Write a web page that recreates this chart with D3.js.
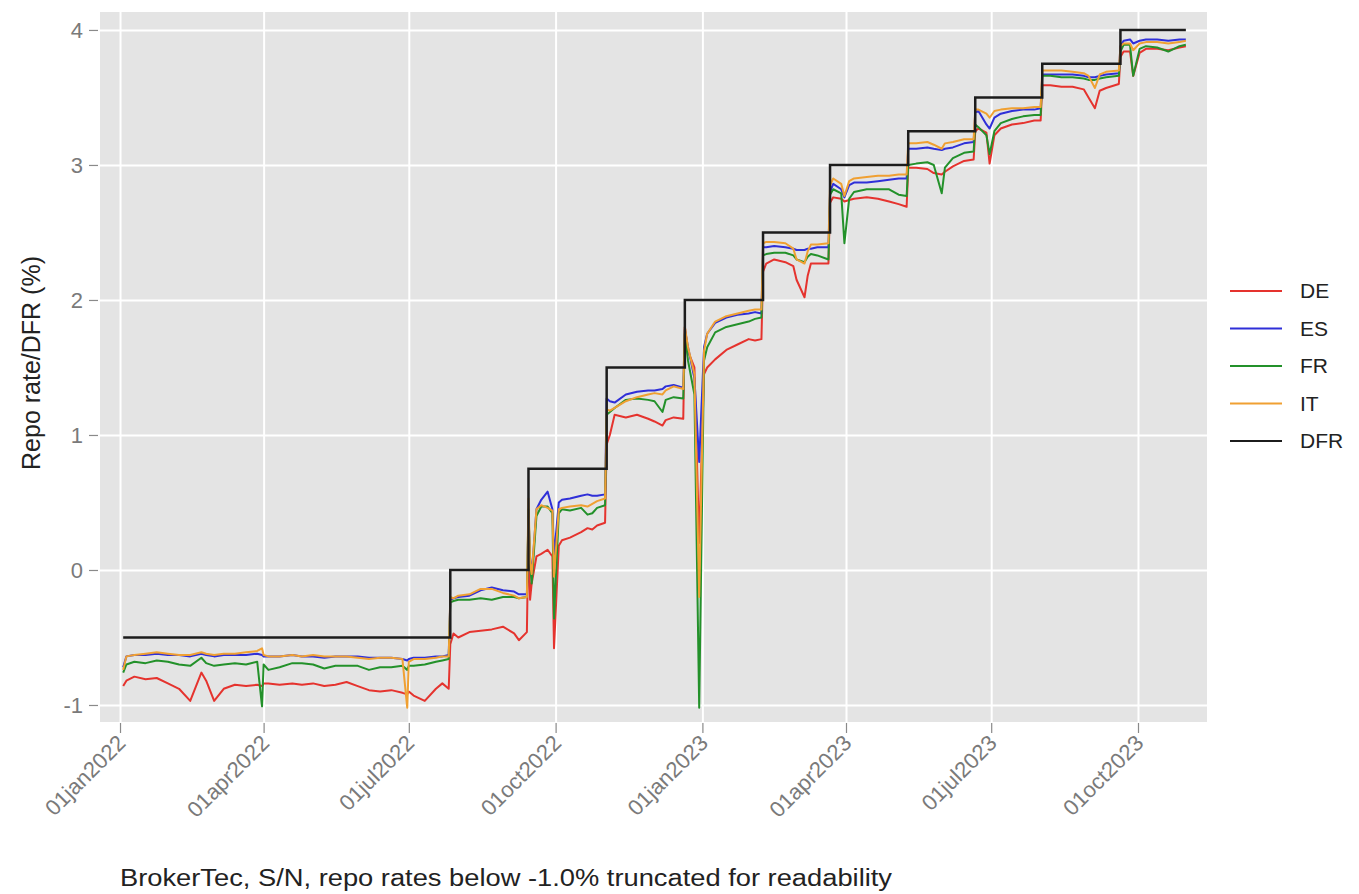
<!DOCTYPE html>
<html>
<head>
<meta charset="utf-8">
<script src="https://cdn.jsdelivr.net/npm/d3@7"></script>
<style>
  body { margin: 0; background: #fff; }
  svg text { font-family: "Liberation Sans", Arial, sans-serif; }
</style>
</head>
<body>
<div id="chart"></div>
<script>
// observation dates (one row per DFR regime)
const dates = [
  "2022-01-03","2022-01-05","2022-01-10","2022-01-17","2022-01-24","2022-01-31","2022-02-07","2022-02-14","2022-02-21","2022-02-24",
  "2022-03-01","2022-03-07","2022-03-14","2022-03-21","2022-03-28","2022-03-31","2022-04-01","2022-04-04","2022-04-11","2022-04-19",
  "2022-04-25","2022-05-02","2022-05-09","2022-05-16","2022-05-23","2022-05-30","2022-06-06","2022-06-13","2022-06-20","2022-06-27",
  "2022-06-30","2022-07-01","2022-07-04","2022-07-11","2022-07-18","2022-07-22","2022-07-26",
  "2022-07-27","2022-07-29","2022-08-01","2022-08-08","2022-08-15","2022-08-22","2022-08-29","2022-09-05","2022-09-08","2022-09-13",
  "2022-09-14","2022-09-15","2022-09-16","2022-09-19","2022-09-22","2022-09-26","2022-09-29","2022-09-30","2022-10-03","2022-10-05",
  "2022-10-10","2022-10-17","2022-10-21","2022-10-24","2022-10-27","2022-11-01",
  "2022-11-02","2022-11-04","2022-11-07","2022-11-14","2022-11-21","2022-11-28","2022-12-02","2022-12-07","2022-12-09","2022-12-14","2022-12-20",
  "2022-12-21","2022-12-23","2022-12-27","2022-12-30","2023-01-02","2023-01-04","2023-01-09","2023-01-16","2023-01-23","2023-01-30","2023-02-03","2023-02-07",
  "2023-02-08","2023-02-10","2023-02-15","2023-02-22","2023-02-27","2023-03-01","2023-03-06","2023-03-08","2023-03-10","2023-03-14","2023-03-21",
  "2023-03-22","2023-03-24","2023-03-29","2023-03-31","2023-04-03","2023-04-06","2023-04-14","2023-04-21","2023-04-28","2023-05-04","2023-05-09",
  "2023-05-10","2023-05-15","2023-05-22","2023-05-26","2023-05-31","2023-06-02","2023-06-07","2023-06-14","2023-06-20",
  "2023-06-21","2023-06-23","2023-06-28","2023-06-30","2023-07-03","2023-07-07","2023-07-14","2023-07-21","2023-07-28","2023-08-01",
  "2023-08-02","2023-08-07","2023-08-14","2023-08-21","2023-08-28","2023-08-31","2023-09-04","2023-09-07","2023-09-11","2023-09-19",
  "2023-09-20","2023-09-22","2023-09-26","2023-09-28","2023-10-02","2023-10-06","2023-10-13","2023-10-20","2023-10-27","2023-10-31"
];

const deRate = [
  -0.86,-0.82,-0.79,-0.81,-0.80,-0.84,-0.88,-0.97,-0.76,-0.82,
  -0.97,-0.88,-0.85,-0.86,-0.85,-0.86,-0.84,-0.84,-0.85,-0.84,
  -0.85,-0.84,-0.86,-0.85,-0.83,-0.86,-0.89,-0.90,-0.89,-0.91,
  -0.92,-0.90,-0.93,-0.97,-0.88,-0.84,-0.88,
  -0.55,-0.47,-0.50,-0.46,-0.45,-0.44,-0.42,-0.47,-0.52,-0.46,
  0.30,-0.22,-0.10,0.10,0.12,0.15,0.10,-0.58,0.18,0.22,
  0.24,0.28,0.31,0.30,0.33,0.35,
  0.93,1.00,1.15,1.13,1.15,1.12,1.10,1.07,1.11,1.13,1.12,
  1.80,1.62,1.50,0.20,1.45,1.50,1.56,1.63,1.67,1.71,1.70,1.71,
  2.21,2.27,2.30,2.28,2.25,2.15,2.02,2.18,2.27,2.27,2.27,
  2.72,2.76,2.75,2.73,2.74,2.75,2.76,2.75,2.73,2.71,2.69,
  2.98,2.98,2.97,2.94,2.93,2.95,2.99,3.03,3.04,
  3.25,3.27,3.24,3.01,3.22,3.27,3.30,3.31,3.33,3.33,
  3.59,3.59,3.58,3.58,3.56,3.50,3.42,3.55,3.57,3.60,
  3.80,3.84,3.84,3.66,3.83,3.86,3.86,3.85,3.87,3.88
];

const esRate = [
  -0.72,-0.64,-0.63,-0.63,-0.62,-0.63,-0.63,-0.64,-0.62,-0.63,
  -0.64,-0.63,-0.63,-0.63,-0.62,-0.63,-0.64,-0.64,-0.64,-0.63,
  -0.64,-0.64,-0.65,-0.64,-0.64,-0.64,-0.65,-0.65,-0.65,-0.66,
  -0.67,-0.66,-0.65,-0.65,-0.64,-0.64,-0.63,
  -0.22,-0.21,-0.20,-0.19,-0.15,-0.13,-0.15,-0.16,-0.18,-0.18,
  0.40,0.10,-0.05,0.45,0.52,0.58,0.45,0.10,0.50,0.52,
  0.53,0.55,0.56,0.55,0.55,0.56,
  1.27,1.25,1.24,1.30,1.32,1.33,1.33,1.34,1.36,1.37,1.35,
  1.78,1.65,1.42,0.80,1.65,1.75,1.83,1.87,1.89,1.90,1.91,1.90,
  2.39,2.39,2.40,2.39,2.38,2.37,2.37,2.38,2.38,2.39,2.39,
  2.80,2.86,2.82,2.76,2.85,2.87,2.87,2.88,2.89,2.90,2.90,
  3.12,3.12,3.13,3.12,3.11,3.12,3.13,3.16,3.17,
  3.39,3.40,3.30,3.27,3.35,3.38,3.40,3.41,3.41,3.42,
  3.67,3.67,3.67,3.67,3.66,3.65,3.65,3.66,3.67,3.68,
  3.88,3.92,3.93,3.90,3.92,3.93,3.93,3.92,3.93,3.93
];

const frRate = [
  -0.76,-0.70,-0.68,-0.69,-0.67,-0.68,-0.70,-0.71,-0.65,-0.69,
  -0.71,-0.70,-0.69,-0.70,-0.68,-1.01,-0.70,-0.74,-0.72,-0.69,
  -0.69,-0.70,-0.73,-0.71,-0.71,-0.71,-0.74,-0.72,-0.72,-0.71,
  -0.74,-0.71,-0.71,-0.70,-0.68,-0.67,-0.66,
  -0.24,-0.23,-0.22,-0.22,-0.21,-0.22,-0.20,-0.20,-0.21,-0.20,
  0.45,0.05,-0.10,0.40,0.47,0.47,0.42,-0.36,0.42,0.45,
  0.44,0.46,0.41,0.42,0.46,0.48,
  1.15,1.17,1.20,1.26,1.27,1.26,1.25,1.17,1.26,1.28,1.27,
  1.75,1.55,1.30,-1.02,1.55,1.65,1.76,1.80,1.82,1.84,1.86,1.87,
  2.33,2.34,2.35,2.35,2.33,2.30,2.28,2.32,2.34,2.33,2.30,
  2.78,2.82,2.79,2.42,2.75,2.80,2.82,2.82,2.82,2.78,2.77,
  3.00,3.01,3.02,3.00,2.79,2.98,3.05,3.09,3.10,
  3.30,3.28,3.22,3.08,3.25,3.31,3.34,3.36,3.37,3.37,
  3.66,3.66,3.65,3.65,3.64,3.63,3.63,3.64,3.65,3.66,
  3.84,3.89,3.89,3.66,3.86,3.88,3.87,3.84,3.88,3.89
];

const itRate = [
  -0.74,-0.64,-0.63,-0.62,-0.61,-0.62,-0.63,-0.63,-0.61,-0.62,
  -0.63,-0.62,-0.62,-0.61,-0.60,-0.58,-0.63,-0.64,-0.64,-0.63,
  -0.64,-0.63,-0.64,-0.64,-0.64,-0.65,-0.66,-0.65,-0.65,-0.66,
  -1.02,-0.68,-0.66,-0.66,-0.65,-0.64,-0.64,
  -0.20,-0.21,-0.19,-0.18,-0.14,-0.14,-0.17,-0.19,-0.21,-0.20,
  0.53,0.05,-0.03,0.45,0.48,0.46,0.44,-0.05,0.45,0.46,
  0.47,0.48,0.47,0.49,0.51,0.53,
  1.19,1.18,1.20,1.25,1.28,1.30,1.31,1.30,1.33,1.36,1.34,
  1.80,1.65,1.45,-0.20,1.62,1.75,1.84,1.88,1.90,1.92,1.93,1.93,
  2.42,2.43,2.43,2.42,2.38,2.30,2.27,2.36,2.41,2.41,2.42,
  2.85,2.90,2.86,2.77,2.88,2.90,2.91,2.92,2.92,2.93,2.93,
  3.16,3.16,3.17,3.15,3.12,3.16,3.17,3.19,3.19,
  3.41,3.41,3.38,3.35,3.40,3.41,3.42,3.42,3.43,3.43,
  3.70,3.70,3.70,3.69,3.68,3.66,3.57,3.67,3.69,3.70,
  3.88,3.90,3.90,3.85,3.90,3.91,3.91,3.90,3.91,3.92
];

// deposit facility rate, value from each date on
const dfrDates = ["2022-01-03","2022-07-27","2022-09-14","2022-11-02","2022-12-21","2023-02-08",
  "2023-03-22","2023-05-10","2023-06-21","2023-08-02","2023-09-20","2023-10-31"];
const dfrRate = [-0.5, 0, 0.75, 1.5, 2, 2.5, 3, 3.25, 3.5, 3.75, 4, 4];

const tickDates = ["2022-01-01","2022-04-01","2022-07-01","2022-10-01","2023-01-01","2023-04-01","2023-07-01","2023-10-01"];
const tickLabels = ["01jan2022","01apr2022","01jul2022","01oct2022","01jan2023","01apr2023","01jul2023","01oct2023"];
const yTicks = [-1, 0, 1, 2, 3, 4];
const seriesNames = ["DE", "ES", "FR", "IT", "DFR"];

const colors = { DE: "#e5332e", ES: "#2f2fd8", FR: "#23912a", IT: "#f0a032", DFR: "#1c1c1c" };

let width = 1359,
  height = 894;
let panelLeft = 100,
  panelRight = 1207,
  panelTop = 12,
  panelBottom = 722;

let parse = d3.timeParse("%Y-%m-%d");

let xScale = d3
  .scaleTime()
  .domain([new Date(2021, 11, 19, 11), new Date(2023, 10, 13, 6)])
  .range([panelLeft, panelRight]);

let yScale = d3
  .scaleLinear()
  .domain([-1.126, 4.133])
  .range([panelBottom, panelTop]);

let svg = d3
  .select("#chart")
  .append("svg")
  .attr("width", width)
  .attr("height", height);

svg.append("rect").attr("width", width).attr("height", height).attr("fill", "#fff");

// panel
svg
  .append("rect")
  .attr("x", panelLeft)
  .attr("y", panelTop)
  .attr("width", panelRight - panelLeft)
  .attr("height", panelBottom - panelTop)
  .attr("fill", "#e4e4e4");

// gridlines
svg
  .append("g")
  .attr("class", "y-grid grid")
  .attr("transform", "translate(" + panelLeft + ",0)")
  .call(d3.axisLeft(yScale).tickValues(yTicks).tickSize(-(panelRight - panelLeft)).tickFormat(""))
  .call(g => g.select(".domain").remove())
  .call(g => g.selectAll("line").attr("stroke", "#fff").attr("stroke-width", 2));

svg
  .append("g")
  .attr("class", "x-grid grid")
  .attr("transform", "translate(0," + panelBottom + ")")
  .call(d3.axisBottom(xScale).tickValues(tickDates.map(parse)).tickSize(-(panelBottom - panelTop)).tickFormat(""))
  .call(g => g.select(".domain").remove())
  .call(g => g.selectAll("line").attr("stroke", "#fff").attr("stroke-width", 2));

// axes
svg
  .append("g")
  .attr("class", "y-axis axis")
  .attr("transform", "translate(" + (panelLeft - 2) + ",0)")
  .call(d3.axisLeft(yScale).tickValues(yTicks).tickSize(9).tickPadding(6).tickFormat(d => String(d)))
  .call(g => g.select(".domain").remove())
  .call(g => g.selectAll("line").attr("stroke", "#8a8a8a").attr("stroke-width", 1.2))
  .call(g => g.selectAll("text").attr("fill", "#7a7a7a").style("font-size", "22px"));

svg
  .append("g")
  .attr("class", "x-axis axis")
  .attr("transform", "translate(0," + (panelBottom + 1) + ")")
  .call(d3.axisBottom(xScale).tickValues(tickDates.map(parse)).tickSize(10)
    .tickFormat((d, i) => tickLabels[i]))
  .call(g => g.select(".domain").remove())
  .call(g => g.selectAll("line").attr("stroke", "#8a8a8a").attr("stroke-width", 1.2))
  .call(g => g.selectAll("text")
    .attr("fill", "#7a7a7a")
    .style("font-size", "22px")
    .attr("text-anchor", "end")
    .attr("y", 0)
    .attr("dy", "0.35em")
    .attr("transform", "translate(1,16) rotate(-45)"));

// series lines
let clip = svg.append("clipPath").attr("id", "panel-clip");
clip.append("rect")
  .attr("x", panelLeft)
  .attr("y", panelTop)
  .attr("width", panelRight - panelLeft)
  .attr("height", panelBottom - panelTop);

let line = d3
  .line()
  .x(d => xScale(d[0]))
  .y(d => yScale(d[1]));

let seriesValues = { DE: deRate, ES: esRate, FR: frRate, IT: itRate };
let plot = svg.append("g").attr("clip-path", "url(#panel-clip)");

["DE", "ES", "FR", "IT"].forEach(name => {
  let pts = dates.map((d, i) => [parse(d), seriesValues[name][i]]);
  plot
    .append("path")
    .datum(pts)
    .attr("fill", "none")
    .attr("stroke", colors[name])
    .attr("stroke-width", 2)
    .attr("stroke-linejoin", "round")
    .attr("d", line);
});

let dfrLine = d3
  .line()
  .x(d => xScale(d[0]))
  .y(d => yScale(d[1]))
  .curve(d3.curveStepAfter);

plot
  .append("path")
  .datum(dfrDates.map((d, i) => [parse(d), dfrRate[i]]))
  .attr("fill", "none")
  .attr("stroke", colors.DFR)
  .attr("stroke-width", 2.5)
  .attr("d", dfrLine);

// y title
svg
  .append("text")
  .text("Repo rate/DFR (%)")
  .attr("transform", "translate(31,363) rotate(-90)")
  .attr("text-anchor", "middle")
  .attr("dy", "0.35em")
  .attr("fill", "#222")
  .style("font-size", "25px");

// legend
let legend = svg
  .append("g")
  .selectAll("g")
  .data(seriesNames)
  .enter()
  .append("g")
  .attr("transform", (d, i) => "translate(1230," + (291 + i * 37.5) + ")");

legend
  .append("line")
  .attr("x1", 0)
  .attr("x2", 52)
  .attr("stroke", d => colors[d])
  .attr("stroke-width", 2);

legend
  .append("text")
  .text(d => d)
  .attr("x", 70)
  .attr("dy", "0.35em")
  .attr("fill", "#222")
  .style("font-size", "21px");

// caption
svg
  .append("text")
  .text("BrokerTec, S/N, repo rates below -1.0% truncated for readability")
  .attr("x", 120)
  .attr("y", 886)
  .attr("textLength", 772)
  .attr("lengthAdjust", "spacingAndGlyphs")
  .attr("fill", "#222")
  .style("font-size", "23px");
</script>
</body>
</html>
